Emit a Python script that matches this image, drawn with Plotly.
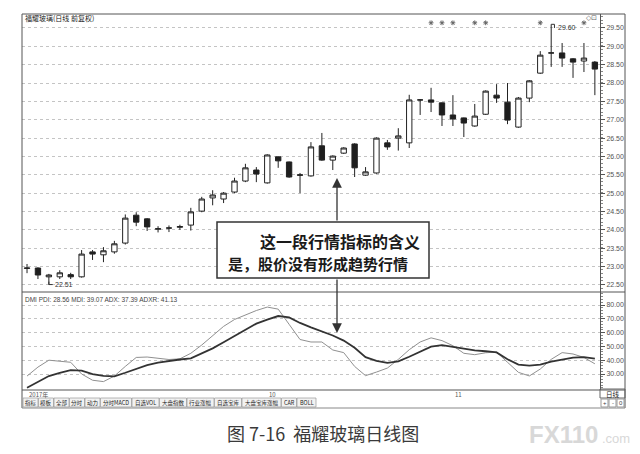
import plotly.graph_objects as go

W, H = 640, 454


def px(x):
    return x / W


def py(y):
    return 1 - y / H


# ---- daily candles, forward-adjusted prices ----
opens = [22.95, 22.96, 22.72, 22.72, 22.78, 22.72, 23.40, 23.32, 23.40, 23.64,
         24.40, 24.30, 24.02, 24.05, 24.07, 24.13, 24.51, 24.87, 24.84, 25.03,
         25.33, 25.63, 25.28, 25.99, 25.85, 25.50, 25.47, 26.29, 25.90, 26.09,
         26.34, 25.49, 25.55, 26.37, 26.50, 26.37, 27.54, 27.54, 27.46, 27.13,
         27.05, 26.83, 27.15, 27.67, 27.48, 26.80, 27.59, 28.27, 28.82, 28.82,
         28.66, 28.60, 28.57]
highs = [23.07, 22.98, 22.80, 22.90, 22.83, 23.45, 23.45, 23.53, 23.70, 24.42,
         24.48, 24.32, 24.10, 24.12, 24.14, 24.60, 24.90, 25.08, 25.03, 25.42,
         25.80, 25.71, 26.06, 26.00, 25.86, 25.55, 26.39, 26.64, 26.03, 26.25,
         26.36, 25.71, 26.52, 26.45, 26.77, 27.68, 27.56, 27.87, 27.47, 27.67,
         27.06, 27.43, 27.80, 27.97, 28.00, 27.62, 28.08, 28.87, 29.60, 29.09,
         28.68, 29.09, 28.60]
lows = [22.82, 22.66, 22.51, 22.66, 22.66, 22.70, 23.18, 23.12, 23.35, 23.60,
        24.10, 23.97, 23.93, 23.94, 24.00, 23.98, 24.48, 24.67, 24.73, 25.00,
        25.30, 25.30, 25.26, 25.69, 25.42, 25.00, 25.45, 25.88, 25.63, 26.07,
        25.44, 25.47, 25.53, 26.18, 26.16, 26.23, 27.13, 27.21, 26.83, 26.83,
        26.53, 26.81, 27.13, 27.46, 26.88, 26.78, 27.48, 28.25, 28.44, 28.44,
        28.14, 28.30, 27.67]
closes = [22.96, 22.77, 22.77, 22.83, 22.72, 23.34, 23.34, 23.43, 23.62, 24.32,
          24.21, 24.08, 24.03, 24.05, 24.09, 24.49, 24.84, 24.95, 25.00, 25.33,
          25.69, 25.52, 26.04, 25.88, 25.44, 25.49, 26.26, 25.90, 26.01, 26.23,
          25.69, 25.58, 26.50, 26.26, 26.56, 27.54, 27.54, 27.48, 27.13, 27.02,
          26.91, 27.10, 27.78, 27.59, 26.99, 27.59, 28.06, 28.76, 28.82, 28.68,
          28.57, 28.68, 28.38]
days = list(range(len(opens)))

# ---- DMI indicator ----
adx = [28.5, 35.0, 40.0, 39.0, 38.5, 30.0, 25.5, 24.5, 28.5, 35.5,
       42.0, 42.3, 41.6, 40.5, 41.0, 45.0, 51.0, 58.0, 64.5, 69.5,
       73.0, 76.0, 78.5, 77.0, 66.0, 55.0, 53.2, 53.2, 47.4, 45.5,
       35.5, 28.8, 31.4, 34.3, 40.6, 47.6, 53.2, 56.2, 54.2, 50.5,
       45.0, 44.0, 45.4, 45.9, 38.5, 31.2, 28.6, 33.6, 40.6, 45.5,
       44.5, 42.0, 37.39]
adxr = [20.0, 24.5, 28.5, 30.8, 32.8, 32.5, 29.9, 28.6, 28.3, 30.9,
        33.7, 36.5, 38.3, 39.6, 40.5, 41.4, 44.8, 48.6, 53.0, 57.4,
        62.2, 66.5, 69.4, 72.0, 71.0, 67.0, 63.8, 60.7, 57.9, 54.2,
        49.0, 42.2, 39.5, 38.0, 39.2, 42.5, 46.4, 49.8, 50.9, 49.6,
        48.0, 47.1, 46.5, 45.6, 40.7, 36.8, 36.0, 36.8, 38.9, 40.6,
        41.8, 42.2, 41.13]
dmi_legend = "DMI PDI: 28.56 MDI: 39.07 ADX: 37.39 ADXR: 41.13"

# ---- axis ticks and labels ----
price_ticks = [22.5, 23.0, 23.5, 24.0, 24.5, 25.0, 25.5, 26.0, 26.5, 27.0,
               27.5, 28.0, 28.5, 29.0, 29.5]
dmi_ticks = [30, 40, 50, 60, 70, 80]
date_labels = ["2017年", "10", "11"]
date_days = [0, 22, 39]
flag_days = [37, 38, 39, 41, 42, 47, 51]
tabs = ["指标", "模板", "全部", "分时", "动力", "分时MACD", "自选VOL",
        "大盘指数", "行业涨幅", "自选宝库", "大盘宝库涨幅", "CAR", "BOLL"]

title_text = "福耀玻璃(日线 前复权)"
note_line1 = "这一段行情指标的含义"
note_line2 = "是，股价没有形成趋势行情"
caption = "图 7-16  福耀玻璃日线图"

X_RANGE = [-0.46, 52.47]
P_RANGE = [22.307, 29.881]
D_RANGE = [18.41, 89.42]
TICK_FONT = dict(family="Liberation Sans", size=7, color="#555")
CJK = "Noto Sans CJK SC"

fig = go.Figure()

fig.add_trace(go.Candlestick(
    x=days, open=opens, high=highs, low=lows, close=closes,
    increasing=dict(line=dict(color="#222", width=1), fillcolor="white"),
    decreasing=dict(line=dict(color="#222", width=1), fillcolor="#1e1e1e"),
    whiskerwidth=0, xaxis="x", yaxis="y", hoverinfo="skip",
))

# small info flags along the top edge
flag_y = P_RANGE[1] - 0.24
fig.add_trace(go.Scatter(
    x=flag_days, y=[flag_y] * len(flag_days), mode="markers",
    marker=dict(symbol="asterisk-open", size=4, color="#666",
                line=dict(color="#666", width=1)),
    xaxis="x", yaxis="y", hoverinfo="skip",
))

fig.add_trace(go.Scatter(
    x=days, y=adx, mode="lines", line=dict(color="#909090", width=1),
    xaxis="x2", yaxis="y2", hoverinfo="skip",
))
fig.add_trace(go.Scatter(
    x=days, y=adxr, mode="lines", line=dict(color="#333", width=1.8),
    xaxis="x2", yaxis="y2", hoverinfo="skip",
))

minor_price = [round(P_RANGE[0] + 0.1 * k, 2) for k in range(1, 76)]
minor_dmi = list(range(20, 90, 2))

axis_common = dict(showgrid=False, zeroline=False, showticklabels=False,
                   range=X_RANGE, domain=[px(22), px(600)], fixedrange=True)
fig.update_layout(
    width=W, height=H, margin=dict(l=0, r=0, t=0, b=0),
    paper_bgcolor="white", plot_bgcolor="white", showlegend=False,
    xaxis=dict(anchor="y", rangeslider=dict(visible=False), **axis_common),
    xaxis2=dict(anchor="y2", **axis_common),
    yaxis=dict(
        domain=[py(292), py(14)], range=P_RANGE, side="right",
        tickvals=price_ticks, tickformat=".2f", ticks="outside", ticklen=4,
        tickcolor="#555", tickfont=TICK_FONT, showline=True, linecolor="#555",
        linewidth=1, showgrid=True, gridcolor="#c4c4c4", griddash="dot",
        zeroline=False, fixedrange=True,
        minor=dict(tickvals=minor_price, ticks="outside", ticklen=2,
                   tickcolor="#888", showgrid=False),
    ),
    yaxis2=dict(
        domain=[py(390), py(292)], range=D_RANGE, side="right",
        tickvals=dmi_ticks, tickformat=".2f", ticks="outside", ticklen=4,
        tickcolor="#555", tickfont=TICK_FONT, showline=True, linecolor="#555",
        linewidth=1, showgrid=True, gridcolor="#c4c4c4", griddash="dot",
        zeroline=False, fixedrange=True,
        minor=dict(tickvals=minor_dmi, ticks="outside", ticklen=2,
                   tickcolor="#888", showgrid=False),
    ),
)

shapes = []
ann = []


def hline(x0, x1, y, color="#555", width=1):
    shapes.append(dict(type="line", xref="paper", yref="paper",
                       x0=px(x0), x1=px(x1), y0=py(y), y1=py(y),
                       line=dict(color=color, width=width)))


def vline(x, y0, y1, color="#555", width=1):
    shapes.append(dict(type="line", xref="paper", yref="paper",
                       x0=px(x), x1=px(x), y0=py(y0), y1=py(y1),
                       line=dict(color=color, width=width)))


def rect(x0, y0, x1, y1, line="#888", fill="rgba(0,0,0,0)", width=1):
    shapes.append(dict(type="rect", xref="paper", yref="paper",
                       x0=px(x0), x1=px(x1), y0=py(y1), y1=py(y0),
                       line=dict(color=line, width=width), fillcolor=fill))


def text(x, y, s, size=7, color="#333", anchor="left", family="Liberation Sans", weight=None):
    font = dict(size=size, color=color, family=family)
    if weight:
        font["weight"] = weight
    ann.append(dict(x=px(x), y=py(y), xref="paper", yref="paper", text=s,
                    showarrow=False, xanchor=anchor, yanchor="middle", font=font))


# chart frame
hline(22, 625, 14)
vline(22, 14, 408)
vline(625, 14, 408)
hline(22, 625, 292)
hline(22, 625, 390)
hline(22, 625, 408, color="#888")
rect(600, 389, 625, 398, line="#666")
text(612.5, 393.5, "日线", size=6.5, color="#222", anchor="center", family=CJK)
for k, s in enumerate(["+", "-", "0"]):
    rect(601 + 8 * k, 399, 608 + 8 * k, 407, line="#999")
    text(604.5 + 8 * k, 403, s, size=6, color="#444", anchor="center")

# header texts
text(23, 18, title_text, size=7, color="#222", family=CJK)
text(584, 18, "◇⊡", size=7, color="#666")
text(23, 299, dmi_legend, size=6.5, color="#444")

# extreme price markers
hi_day = highs.index(max(highs))
lo_day = lows.index(min(lows))
shapes.append(dict(type="path", xref="x", yref="y",
                   path=f"M {hi_day} {highs[hi_day]} L {hi_day + 0.3} {highs[hi_day]} "
                        f"L {hi_day + 0.3} {highs[hi_day] - 0.1}",
                   line=dict(color="#333", width=1)))
ann.append(dict(x=hi_day + 0.4, y=highs[hi_day] - 0.1, xref="x", yref="y",
                text=f"{highs[hi_day]:.2f}", showarrow=False, xanchor="left",
                yanchor="middle", font=dict(size=7, color="#333", family="Liberation Sans")))
shapes.append(dict(type="path", xref="x", yref="y",
                   path=f"M {lo_day} {lows[lo_day] + 0.08} L {lo_day} {lows[lo_day]} "
                        f"L {lo_day + 0.35} {lows[lo_day]}",
                   line=dict(color="#333", width=1)))
ann.append(dict(x=lo_day + 0.4, y=lows[lo_day], xref="x", yref="y",
                text=f"{lows[lo_day]:.2f}", showarrow=False, xanchor="left",
                yanchor="middle", font=dict(size=7, color="#333", family="Liberation Sans")))

# date strip
for lab, d in zip(date_labels, date_days):
    ann.append(dict(x=d, y=py(394), xref="x", yref="paper", text=lab,
                    showarrow=False, xanchor="left", yanchor="middle",
                    font=dict(size=6, color="#555", family=CJK)))

# tab bar
tx = 23
for lab in tabs:
    n_cjk = sum(1 for ch in lab if ord(ch) > 0x2E80)
    w = 6 * n_cjk + 4 * (len(lab) - n_cjk) + 3
    rect(tx, 398, tx + w, 407, line="#999", fill="#f2f2f2", width=0.7)
    text(tx + w / 2, 402.5, lab, size=5.5, color="#222", anchor="center", family=CJK)
    tx += w + 0.5

# note box with arrows
rect(217, 222, 429, 278, line="#333", fill="white", width=1.5)
text(258, 241, note_line1, size=16, color="#1a1a1a", family=CJK, weight=600)
text(226, 263, note_line2, size=15, color="#1a1a1a", family=CJK, weight=600)
ann.append(dict(x=px(337), y=py(178), xref="paper", yref="paper", text="",
                showarrow=True, ax=0, ay=44, arrowhead=2, arrowsize=1.5,
                arrowwidth=1.3, arrowcolor="#333"))
ann.append(dict(x=px(337), y=py(333), xref="paper", yref="paper", text="",
                showarrow=True, ax=0, ay=-55, arrowhead=2, arrowsize=1.5,
                arrowwidth=1.3, arrowcolor="#333"))

# caption and mark
text(323, 433, caption, size=18, color="#3a3a3a", anchor="center", family=CJK)
text(600, 434, "<b>FX110</b>", size=24, color="#d8d8d8", anchor="right", family="Liberation Sans")
text(600, 438, ".com", size=13, color="#d8d8d8", anchor="left", family="Liberation Sans")

fig.update_layout(shapes=shapes, annotations=ann)
fig.write_html("out.html")
